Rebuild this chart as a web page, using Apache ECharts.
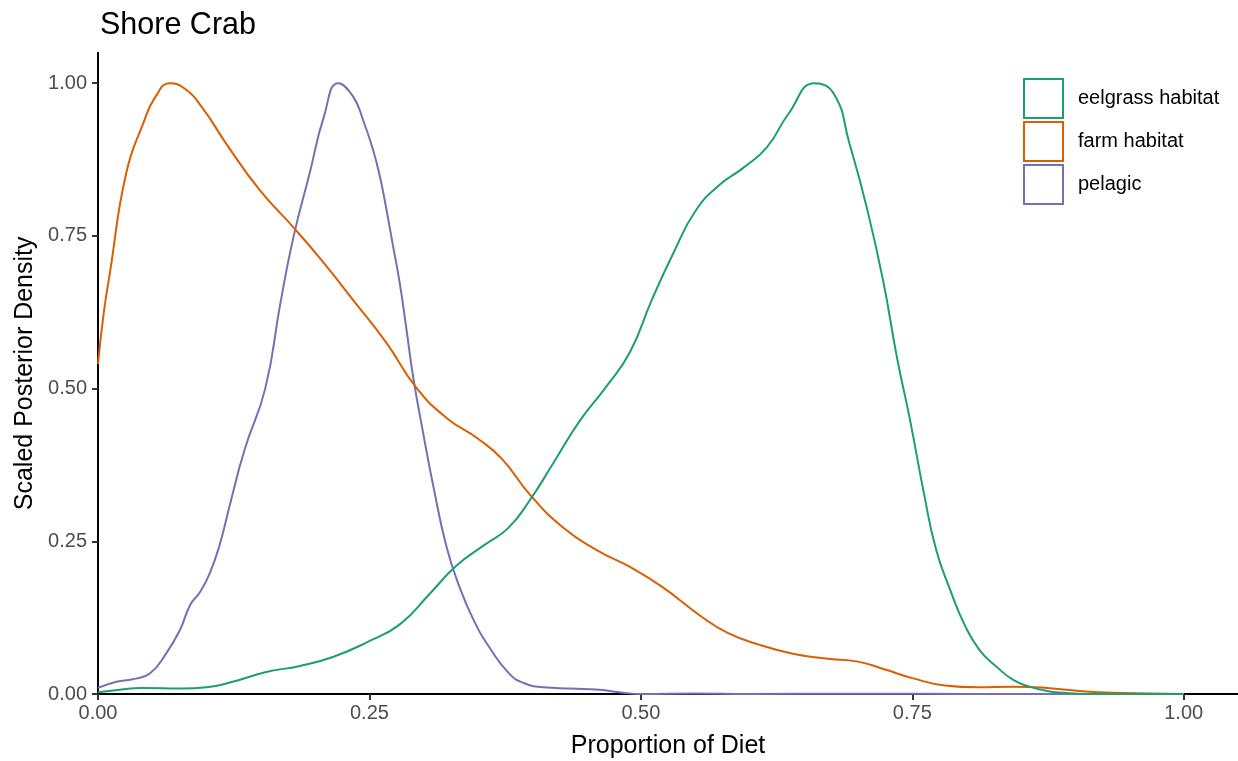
<!DOCTYPE html>
<html>
<head>
<meta charset="utf-8">
<script src="https://cdn.jsdelivr.net/npm/echarts@6/dist/echarts.min.js"></script>
<style>
html,body{margin:0;padding:0;background:#fff;}
#chart{width:1238px;height:761px;}
</style>
</head>
<body>
<div id="chart"></div>
<script>
var seriesNames = ['eelgrass habitat', 'farm habitat', 'pelagic'];
var seriesColors = ['#1B9E77', '#D95F02', '#7570B3'];

var eelgrass = [[0,0.003],[0.02,0.007],[0.04,0.01],[0.078,0.009],[0.1,0.011],[0.124,0.02],[0.155,0.036],[0.186,0.046],[0.217,0.061],[0.248,0.085],[0.278,0.114],[0.306,0.165],[0.33,0.21],[0.355,0.243],[0.378,0.272],[0.398,0.318],[0.42,0.38],[0.444,0.448],[0.468,0.503],[0.49,0.56],[0.51,0.645],[0.53,0.722],[0.55,0.79],[0.572,0.833],[0.594,0.861],[0.616,0.895],[0.636,0.95],[0.66,1.0],[0.678,0.982],[0.692,0.902],[0.708,0.797],[0.723,0.678],[0.736,0.55],[0.748,0.448],[0.761,0.326],[0.772,0.236],[0.785,0.17],[0.798,0.114],[0.812,0.072],[0.828,0.044],[0.843,0.023],[0.858,0.012],[0.874,0.005],[0.889,0.002],[0.91,0],[1.0,0]];

var farm = [[0,0.54],[0.005,0.62],[0.011,0.69],[0.026,0.853],[0.042,0.936],[0.053,0.978],[0.066,1.0],[0.08,0.991],[0.096,0.96],[0.1185,0.90],[0.149,0.825],[0.18,0.764],[0.207,0.708],[0.235,0.645],[0.266,0.574],[0.293,0.502],[0.321,0.452],[0.35,0.418],[0.372,0.385],[0.398,0.326],[0.428,0.273],[0.459,0.236],[0.49,0.208],[0.52,0.175],[0.554,0.129],[0.58,0.10],[0.61,0.08],[0.64,0.066],[0.67,0.058],[0.70,0.053],[0.725,0.04],[0.75,0.026],[0.78,0.014],[0.81,0.011],[0.843,0.012],[0.874,0.01],[0.904,0.005],[0.935,0.002],[0.97,0.001],[1.0,0]];

var pelagic = [[0,0.01],[0.017,0.02],[0.032,0.024],[0.048,0.034],[0.063,0.067],[0.0755,0.105],[0.085,0.146],[0.094,0.167],[0.103,0.198],[0.112,0.244],[0.1215,0.31],[0.135,0.40],[0.154,0.50],[0.168,0.64],[0.18,0.748],[0.195,0.853],[0.208,0.945],[0.2213,1.0],[0.235,0.978],[0.2443,0.939],[0.2535,0.89],[0.2597,0.847],[0.2658,0.792],[0.2719,0.732],[0.278,0.672],[0.2842,0.596],[0.2903,0.519],[0.299,0.432],[0.309,0.339],[0.321,0.241],[0.333,0.175],[0.346,0.121],[0.361,0.075],[0.379,0.033],[0.392,0.018],[0.41,0.011],[0.435,0.009],[0.462,0.007],[0.48,0.003],[0.5,0.0],[0.55,0.001],[0.6,0],[0.7,0.0005],[0.8,0],[1.0,0]];

var xTicks = [0, 0.25, 0.5, 0.75, 1.0];
var yTicks = [0, 0.25, 0.5, 0.75, 1.0];

var allData = [eelgrass, farm, pelagic];
var font = '"Liberation Sans", Arial, Helvetica, sans-serif';

var chart = echarts.init(document.getElementById('chart'), null, {renderer: 'canvas'});
chart.setOption({
  backgroundColor: '#ffffff',
  animation: false,
  title: {
    text: 'Shore Crab',
    left: 95,
    top: 5,
    textStyle: {fontFamily: font, fontSize: 30.5, fontWeight: 'normal', color: '#000'}
  },
  legend: {
    orient: 'vertical',
    left: 1018,
    top: 73,
    itemWidth: 39,
    itemHeight: 39,
    itemGap: 2,
    textStyle: {fontFamily: font, fontSize: 20, color: '#000', padding: [0, 0, 0, 10]},
    data: seriesNames.map(function (n, i) {
      return {name: n, icon: 'rect', itemStyle: {color: '#fff', borderColor: seriesColors[i], borderWidth: 2}};
    })
  },
  grid: {left: 98, right: 0, top: 52.7, bottom: 67, containLabel: false, outerBoundsMode: 'none'},
  xAxis: {
    type: 'value',
    min: 0, max: 1.05,
    name: 'Proportion of Diet',
    nameLocation: 'middle',
    nameGap: 40,
    nameTextStyle: {fontFamily: font, fontSize: 25, color: '#000'},
    axisLine: {show: true, onZero: false, lineStyle: {color: '#000', width: 2}},
    axisTick: {show: true, length: 6, lineStyle: {color: '#333', width: 2}, customValues: xTicks},
    axisLabel: {fontFamily: font, fontSize: 20, color: '#4d4d4d', margin: 9, customValues: xTicks,
      formatter: function (v) { return v.toFixed(2); }},
    splitLine: {show: false}
  },
  yAxis: {
    type: 'value',
    min: 0, max: 1.05,
    name: 'Scaled Posterior Density',
    nameLocation: 'middle',
    nameRotate: 90,
    nameGap: 58,
    nameTextStyle: {fontFamily: font, fontSize: 25, color: '#000'},
    axisLine: {show: true, onZero: false, lineStyle: {color: '#000', width: 2}},
    axisTick: {show: true, length: 6, lineStyle: {color: '#333', width: 2}, customValues: yTicks},
    axisLabel: {fontFamily: font, fontSize: 20, color: '#4d4d4d', margin: 11, customValues: yTicks,
      formatter: function (v) { return v.toFixed(2); }},
    splitLine: {show: false}
  },
  series: seriesNames.map(function (n, i) {
    return {
      name: n,
      type: 'line',
      data: allData[i],
      smooth: 0.5,
      showSymbol: false,
      symbol: 'none',
      clip: true,
      lineStyle: {color: seriesColors[i], width: 2},
      itemStyle: {color: seriesColors[i]},
      z: 3 - i
    };
  })
});
</script>
</body>
</html>
